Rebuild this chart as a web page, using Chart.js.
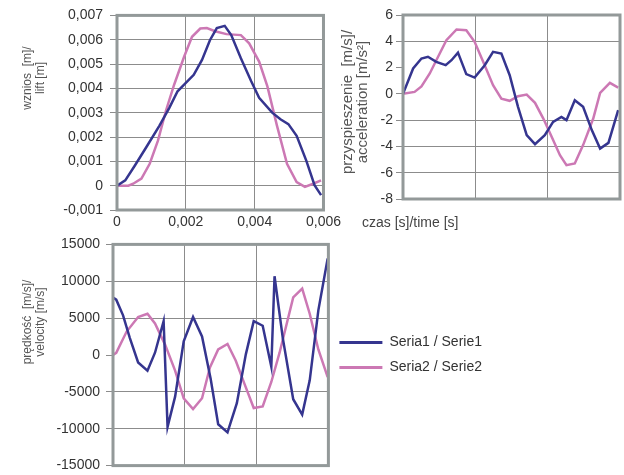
<!DOCTYPE html>
<html>
<head>
<meta charset="utf-8">
<title>wznios / przyspieszenie / prędkość</title>
<script src="https://cdn.jsdelivr.net/npm/chart.js@4.4.1/dist/chart.umd.min.js"></script>
<style>
  html, body { margin: 0; padding: 0; background: #fff; overflow: hidden; }
  #wrap { position: relative; width: 624px; height: 475px; }
  canvas { position: absolute; }
  #c-lift { left: 0; top: 0; }
  #c-acc { left: 335px; top: 0; }
  #c-vel { left: 0; top: 230px; }
</style>
</head>
<body>
<div id="wrap">
  <canvas id="c-lift" width="345" height="232"></canvas>
  <canvas id="c-acc" width="289" height="232"></canvas>
  <canvas id="c-vel" width="624" height="250"></canvas>
</div>
<script>
// lift [m]
var liftTime1 = [0, 0.00024, 0.00052, 0.00085, 0.00123, 0.00152, 0.00176, 0.00195, 0.00223, 0.00247, 0.0027, 0.0029,
  0.00313, 0.00332, 0.0036, 0.0039, 0.00413, 0.00451, 0.00475, 0.00498, 0.00522, 0.0055, 0.00574, 0.00593]
var lift1 = [0, 0.00022, 0.00083, 0.00158, 0.00246, 0.0032, 0.00388, 0.00415, 0.00456, 0.00517, 0.00598, 0.00648,
  0.00657, 0.00619, 0.00524, 0.00429, 0.00361, 0.003, 0.00273, 0.00253, 0.00205, 0.00103, 0.00002, -0.00039]
var liftTime2 = [0, 0.00033, 0.00047, 0.00071, 0.00095, 0.00119, 0.00142, 0.00166, 0.00195, 0.00218, 0.00242, 0.00261,
  0.00285, 0.00318, 0.0036, 0.00384, 0.00413, 0.00437, 0.00465, 0.00494, 0.00522, 0.00546, 0.0057, 0.00593]
var lift2 = [0, 0, 0.00008, 0.00029, 0.0009, 0.00185, 0.00307, 0.00415, 0.0053, 0.00612, 0.00646, 0.00648,
  0.00635, 0.00623, 0.00619, 0.00585, 0.0051, 0.00408, 0.00246, 0.0009, 0.00015, -0.00005, 0.00008, 0.00022]

// acceleration [m/s2]
var accTime1 = [0, 0.00028, 0.00051, 0.00069, 0.00092, 0.00118, 0.00134, 0.00152, 0.00175, 0.00198, 0.00226, 0.00249,
  0.00272, 0.00295, 0.00318, 0.00342, 0.00365, 0.00392, 0.00415, 0.00438, 0.00452, 0.00475, 0.00498, 0.00522,
  0.00545, 0.00568, 0.00595]
var acc1 = [0, 1.93, 2.69, 2.82, 2.43, 2.18, 2.56, 3.14, 1.5, 1.24, 2.18, 3.2,
  3.07, 1.42, -0.99, -3.14, -3.83, -3.14, -2.13, -1.75, -2.0, -0.48, -0.99, -2.76,
  -4.16, -3.73, -1.24]
var accTime2 = [0, 0.00032, 0.00051, 0.00074, 0.00097, 0.0012, 0.00148, 0.00175, 0.00198, 0.00222, 0.00249, 0.00272,
  0.00295, 0.00318, 0.00342, 0.00365, 0.00388, 0.00411, 0.00434, 0.00452, 0.00475, 0.00498, 0.00526, 0.00545,
  0.00572, 0.00595]
var acc2 = [0, 0.15, 0.56, 1.55, 2.82, 4.08, 4.9, 4.84, 3.96, 2.43, 0.66, -0.36,
  -0.53, -0.18, -0.05, -0.68, -1.88, -3.27, -4.67, -5.43, -5.3, -3.9, -1.88, 0.08,
  0.84, 0.48]

// velocity [m/s]
var velTime1 = [0, 0.00009, 0.00028, 0.00047, 0.0007, 0.00096, 0.00117, 0.00141, 0.00152, 0.00173, 0.00197, 0.00223,
  0.00248, 0.00272, 0.00293, 0.00319, 0.00345, 0.0037, 0.00392, 0.00417, 0.00441, 0.0045, 0.00473, 0.00502,
  0.00527, 0.00548, 0.00572, 0.00598]
var vel1 = [7800, 7500, 5380, 2300, -1015, -2120, 310, 4590, -9750, -5650, 1850, 5160,
  2520, -3220, -9400, -10500, -6530, 90, 4590, 3970, -1590, 10680, 2290, -6000,
  -8080, -3440, 6050, 13100]
var velTime2 = [0, 0.00009, 0.00038, 0.0007, 0.00096, 0.00117, 0.00145, 0.00173, 0.00197, 0.00223, 0.00248, 0.0027,
  0.00293, 0.00319, 0.00342, 0.00366, 0.00392, 0.00417, 0.00441, 0.00464, 0.00502, 0.00527, 0.00548, 0.00572,
  0.00598]
var vel2 = [0, 300, 3180, 5160, 5600, 4280, 1410, -2120, -5870, -7330, -5870, -1680,
  750, 1500, -790, -3880, -7190, -6970, -3660, 310, 7810, 9000, 5600, 750,
  -3000]

var seriesNames = ['Seria1 / Serie1', 'Seria2 / Serie2']
var seriesColors = ['#35358f', '#cc78b4']
var timeTicks = { min: 0, max: 0.006, step: 0.002 }

Chart.defaults.font.family = '"Liberation Sans", Arial, sans-serif'
Chart.defaults.font.size = 14
Chart.defaults.color = '#333'

var gridColor = '#8c8c8c'

function pts(xs, ys) {
  return ys.map(function (y, i) { return { x: xs[i], y: y } })
}

function lineSet(i, xs, ys) {
  return {
    label: seriesNames[i],
    data: pts(xs, ys),
    borderColor: seriesColors[i],
    backgroundColor: seriesColors[i],
    borderWidth: 2.5,
    pointRadius: 0,
    tension: 0,
    fill: false
  }
}

// grey frame round the plot area
var frame = {
  id: 'frame',
  afterDatasetsDraw: function (chart) {
    var ctx = chart.ctx, a = chart.chartArea
    ctx.save()
    ctx.strokeStyle = '#939999'
    ctx.lineWidth = 3
    ctx.strokeRect(a.left, a.top, a.right - a.left, a.bottom - a.top)
    ctx.restore()
  }
}

// axis captions placed like in the original sheet
var sideText = {
  id: 'sideText',
  afterDraw: function (chart, args, opts) {
    var ctx = chart.ctx
    ;(opts.items || []).forEach(function (item) {
      ctx.save()
      ctx.font = item.font
      ctx.fillStyle = item.color
      ctx.translate(item.x, item.y)
      if (item.rotate) ctx.rotate(-Math.PI / 2)
      ctx.textAlign = item.align || 'center'
      ctx.textBaseline = 'middle'
      item.lines.forEach(function (line, i) {
        ctx.fillText(line, 0, (i - (item.lines.length - 1) / 2) * item.lineHeight)
      })
      ctx.restore()
    })
  }
}

function xAxis(showLabels, height) {
  return {
    type: 'linear',
    min: timeTicks.min,
    max: timeTicks.max,
    border: { display: false },
    grid: { color: gridColor, drawTicks: false },
    ticks: {
      display: showLabels,
      stepSize: timeTicks.step,
      padding: 4,
      callback: function (v) { return v === 0 ? '0' : v.toFixed(3).replace('.', ',') }
    },
    afterFit: function (s) { s.height = height }
  }
}

function yAxis(min, max, step, width, pad, fmt, hide) {
  return {
    min: min,
    max: max,
    border: { display: false },
    grid: {
      color: function (c) { return hide.indexOf(c.tick && c.tick.value) >= 0 ? 'rgba(0,0,0,0)' : gridColor },
      tickColor: gridColor,
      tickLength: 7
    },
    ticks: { stepSize: step, padding: pad, callback: fmt },
    afterFit: function (s) { s.width = width }
  }
}

function dec3(v) { return v === 0 ? '0' : v.toFixed(3).replace('.', ',') }
function plain(v) { return String(v) }

var captionFont12 = '12px "Liberation Sans", Arial, sans-serif'
var captionFont14 = '14px "Liberation Sans", Arial, sans-serif'
var captionFont15 = '15px "Liberation Sans", Arial, sans-serif'

new Chart(document.getElementById('c-lift').getContext('2d'), {
  type: 'line',
  data: { datasets: [lineSet(0, liftTime1, lift1), lineSet(1, liftTime2, lift2)] },
  options: {
    responsive: false,
    animation: false,
    layout: { autoPadding: false, padding: { top: 13, right: 18, bottom: 0, left: 0 } },
    scales: {
      x: xAxis(true, 22),
      y: yAxis(-0.001, 0.007, 0.001, 117, 7, dec3, [])
    },
    plugins: {
      legend: { display: false },
      tooltip: { enabled: false },
      sideText: {
        items: [{ lines: ['wznios  [m]/', 'lift [m]'], x: 34.5, y: 78, rotate: true, lineHeight: 13, font: captionFont12, color: '#555' }]
      }
    }
  },
  plugins: [frame, sideText]
})

new Chart(document.getElementById('c-acc').getContext('2d'), {
  type: 'line',
  data: { datasets: [lineSet(0, accTime1, acc1), lineSet(1, accTime2, acc2)] },
  options: {
    responsive: false,
    animation: false,
    layout: { autoPadding: false, padding: { top: 15, right: 4, bottom: 0, left: 0 } },
    scales: {
      x: xAxis(false, 33),
      y: yAxis(-8, 6, 2, 68, 3, plain, [2, 0])
    },
    plugins: {
      legend: { display: false },
      tooltip: { enabled: false },
      sideText: {
        items: [
          { lines: ['przyspieszenie  [m/s]/', 'acceleration [m/s²]'], x: 20.5, y: 102, rotate: true, lineHeight: 15, font: captionFont15, color: '#555' },
          { lines: ['czas [s]/time [s]'], x: 27, y: 223, rotate: false, align: 'left', lineHeight: 15, font: captionFont14, color: '#444' }
        ]
      }
    }
  },
  plugins: [frame, sideText]
})

new Chart(document.getElementById('c-vel').getContext('2d'), {
  type: 'line',
  data: { datasets: [lineSet(0, velTime1, vel1), lineSet(1, velTime2, vel2)] },
  options: {
    responsive: false,
    animation: false,
    layout: { autoPadding: false, padding: { top: 14, right: 132, bottom: 0, left: 0 } },
    scales: {
      x: xAxis(false, 9),
      y: yAxis(-15000, 15000, 5000, 113, 6, plain, [0])
    },
    plugins: {
      tooltip: { enabled: false },
      legend: {
        position: 'right',
        fullSize: false,
        maxWidth: 300,
        labels: {
          boxWidth: 43,
          boxHeight: 3,
          padding: 11,
          color: '#333',
          font: { size: 14 },
          generateLabels: function (chart) {
            return chart.data.datasets.map(function (ds, i) {
              return { text: ds.label, fillStyle: ds.borderColor, strokeStyle: ds.borderColor, lineWidth: 0, datasetIndex: i, fontColor: '#333' }
            })
          }
        }
      },
      sideText: {
        items: [{ lines: ['prędkość  [m/s]/', 'velocity [m/s]'], x: 34.5, y: 92, rotate: true, lineHeight: 13, font: captionFont12, color: '#555' }]
      }
    }
  },
  plugins: [frame, sideText]
})
</script>
</body>
</html>
